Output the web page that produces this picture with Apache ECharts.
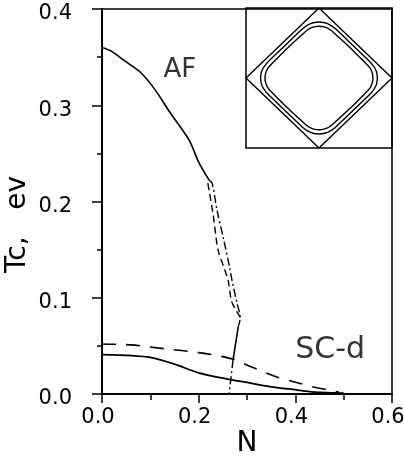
<!DOCTYPE html>
<html>
<head>
<meta charset="utf-8">
<script src="https://cdn.jsdelivr.net/npm/echarts@6/dist/echarts.min.js"></script>
<style>
  html, body { margin: 0; padding: 0; background: #fff; }
  #chart { width: 404px; height: 458px; }
</style>
</head>
<body>
<div id="chart"></div>
<script>
// AF transition, solid part
const afN = [0, 0.02, 0.05, 0.08, 0.11, 0.14, 0.18, 0.20, 0.222]
const afTc = [0.360, 0.356, 0.345, 0.334, 0.316, 0.293, 0.264, 0.241, 0.222]

// AF, dashed branch
const afDashN = [0.219, 0.230, 0.240, 0.254, 0.261, 0.269, 0.286]
const afDashTc = [0.219, 0.186, 0.150, 0.129, 0.118, 0.095, 0.080]

// AF, dash-dot branch, then short solid piece, then dash-dot down to the axis
const afDotN = [0.222, 0.228, 0.238, 0.252, 0.265, 0.269, 0.279, 0.286, 0.282]
const afDotTc = [0.222, 0.219, 0.191, 0.160, 0.129, 0.118, 0.095, 0.079, 0.070]
const kinkN = [0.282, 0.271]
const kinkTc = [0.070, 0.035]
const footN = [0.271, 0.263]
const footTc = [0.035, 0.0]

// SC-d
const scN = [0, 0.06, 0.10, 0.15, 0.20, 0.265, 0.30, 0.35, 0.39, 0.44, 0.50]
const scTc = [0.041, 0.040, 0.038, 0.031, 0.022, 0.015, 0.012, 0.0075, 0.005, 0.002, 0.001]
const scDashN = [0, 0.06, 0.13, 0.20, 0.265, 0.31, 0.36, 0.41, 0.44, 0.49]
const scDashTc = [0.052, 0.051, 0.047, 0.043, 0.037, 0.028, 0.018, 0.011, 0.007, 0.002]

// text in the plot
const labelText = ["AF", "SC-d"]
const labelN = [0.161, 0.472]
const labelTc = [0.336, 0.046]

// inset: Brillouin zone diamond and two Fermi contours (first quadrant, mirrored)
const zoneX = [0, 1, 0, -1, 0]
const zoneY = [1, 0, -1, 0, 1]
const outerQ = [[0.80, 0], [0.79, 0.08], [0.76, 0.15], [0.70, 0.23], [0.47, 0.46],
  [0.23, 0.70], [0.15, 0.76], [0.08, 0.79], [0, 0.80]]
const innerQ = [[0.74, 0], [0.73, 0.07], [0.70, 0.14], [0.64, 0.21], [0.43, 0.43],
  [0.21, 0.64], [0.14, 0.70], [0.07, 0.73], [0, 0.74]]

const zip = (xs, ys) => xs.map((x, i) => [x, ys[i]])

const mirror = q => {
  const q2 = q.slice().reverse().map(([x, y]) => [-x, y])
  const q3 = q.map(([x, y]) => [-x, -y])
  const q4 = q.slice().reverse().map(([x, y]) => [x, -y])
  return q.concat(q2, q3, q4)
}

const font = "DejaVu Sans"
const black = "#000"

const line = (data, type, width) => ({
  type: "line",
  data,
  symbol: "none",
  smooth: 0.3,
  lineStyle: { color: black, width: width || 1.6, type: type || "solid" },
  silent: true,
})

const insetLine = (data, smooth) => ({
  type: "line",
  xAxisIndex: 1,
  yAxisIndex: 1,
  data,
  symbol: "none",
  smooth: smooth || false,
  lineStyle: { color: black, width: 1.4 },
  silent: true,
  z: 10,
})

const labelSize = { AF: 26, "SC-d": 30 }

const chart = echarts.init(document.getElementById("chart"), null, { renderer: "canvas" })

chart.setOption({
  animation: false,
  backgroundColor: "#fff",
  grid: [
    {
      left: 102, right: 12, top: 9, bottom: 64,
      outerBoundsMode: "none", containLabel: false,
      show: true, borderColor: black, borderWidth: 1.5,
    },
    {
      left: 246, right: 12, top: 8, height: 140,
      outerBoundsMode: "none", containLabel: false,
      show: true, borderColor: black, borderWidth: 1.5,
    },
  ],
  xAxis: [
    {
      type: "value",
      gridIndex: 0,
      min: 0, max: 0.6, interval: 0.2,
      name: "N",
      nameLocation: "middle",
      nameGap: 36,
      nameMoveOverlap: false,
      nameTextStyle: { fontFamily: font, fontSize: 28, color: black },
      axisLine: { show: true, onZero: false, lineStyle: { color: black, width: 2 } },
      axisTick: { show: true, length: 9, lineStyle: { color: black, width: 1.5 } },
      minorTick: { show: true, splitNumber: 2, length: 6, lineStyle: { color: black, width: 1.5 } },
      splitLine: { show: false },
      axisLabel: {
        show: true,
        margin: 13,
        fontFamily: font, fontSize: 21, color: black,
        padding: [0, 8, 0, 0],
        showMinLabel: true, showMaxLabel: true,
        formatter: v => v.toFixed(1),
      },
    },
    { type: "value", gridIndex: 1, min: -1, max: 1, show: false },
  ],
  yAxis: [
    {
      type: "value",
      gridIndex: 0,
      min: 0, max: 0.4, interval: 0.1,
      name: "Tc,   ev",
      nameLocation: "middle",
      nameGap: 70,
      nameMoveOverlap: false,
      nameTextStyle: { fontFamily: font, fontSize: 28, color: black, padding: [0, 46, 0, 0] },
      axisLine: { show: true, onZero: false, lineStyle: { color: black, width: 2 } },
      axisTick: { show: true, length: 10, lineStyle: { color: black, width: 1.5 } },
      minorTick: { show: true, splitNumber: 2, length: 5, lineStyle: { color: black, width: 1.5 } },
      splitLine: { show: false },
      axisLabel: {
        show: true,
        margin: 30,
        fontFamily: font, fontSize: 21, color: black,
        verticalAlign: "top",
        lineHeight: 10,
        showMinLabel: true, showMaxLabel: true,
        formatter: v => v.toFixed(1),
      },
    },
    { type: "value", gridIndex: 1, min: -1, max: 1, show: false },
  ],
  series: [
    line(zip(afN, afTc)),
    line(zip(afDashN, afDashTc), [7, 4], 1.4),
    line(zip(afDotN, afDotTc), [8, 3, 2, 3], 1.4),
    line(zip(kinkN, kinkTc), "solid", 1.6),
    line(zip(footN, footTc), [8, 3, 2, 3], 1.4),
    line(zip(scN, scTc), "solid", 1.8),
    line(zip(scDashN, scDashTc), [14, 10], 1.6),
    {
      type: "scatter",
      symbolSize: 0,
      silent: true,
      data: labelText.map((t, i) => ({
        value: [labelN[i], labelTc[i]],
        name: t,
        label: { fontSize: labelSize[t] },
      })),
      label: {
        show: true,
        position: "inside",
        formatter: p => p.name,
        fontFamily: font,
        color: black,
      },
    },
    insetLine(zip(zoneX, zoneY)),
    insetLine(mirror(outerQ).concat([outerQ[0]]), 0.2),
    insetLine(mirror(innerQ).concat([innerQ[0]]), 0.2),
  ],
})

window.addEventListener("resize", () => chart.resize())
</script>
</body>
</html>
